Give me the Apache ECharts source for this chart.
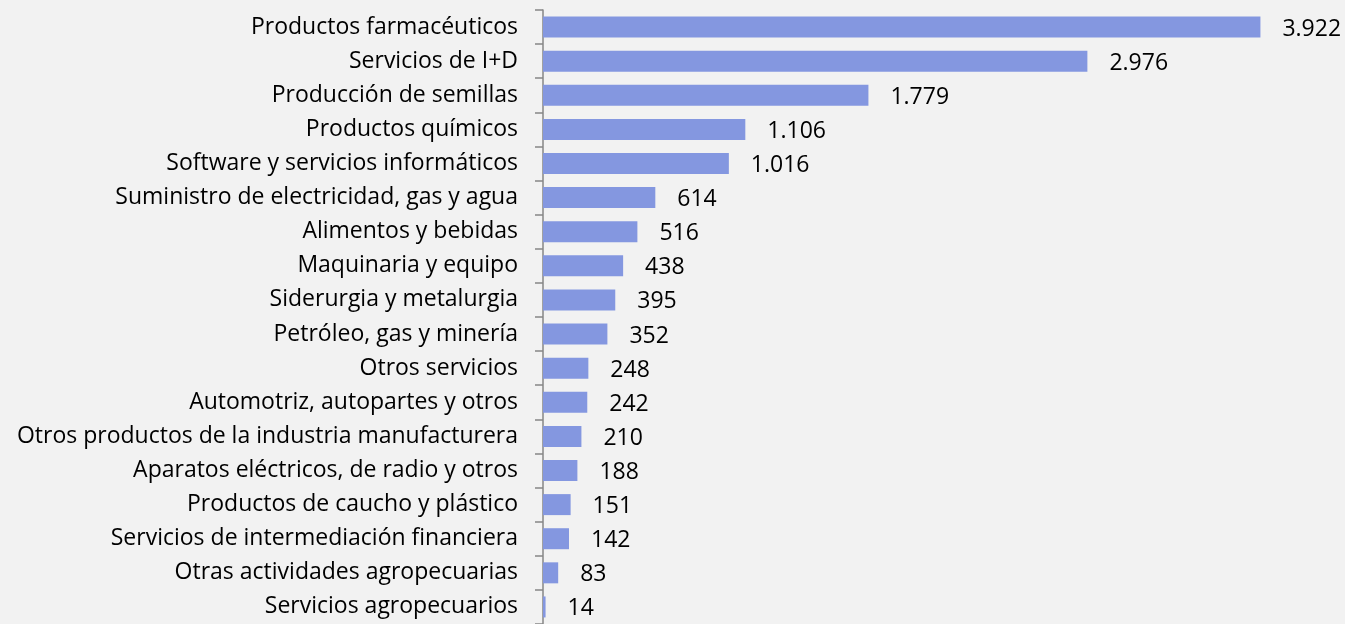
<!DOCTYPE html>
<html>
<head>
<meta charset="utf-8">
<script src="https://cdn.jsdelivr.net/npm/echarts@6/dist/echarts.min.js"></script>
<style>
  html, body { margin: 0; padding: 0; background: #f2f2f2; }
  #chart { width: 1345px; height: 624px; }
</style>
</head>
<body>
<div id="chart"></div>
<script>
  // categorias (de arriba hacia abajo)
  var categorias = [
    'Productos farmacéuticos',
    'Servicios de I+D',
    'Producción de semillas',
    'Productos químicos',
    'Software y servicios informáticos',
    'Suministro de electricidad, gas y agua',
    'Alimentos y bebidas',
    'Maquinaria y equipo',
    'Siderurgia y metalurgia',
    'Petróleo, gas y minería',
    'Otros servicios',
    'Automotriz, autopartes y otros',
    'Otros productos de la industria manufacturera',
    'Aparatos eléctricos, de radio y otros',
    'Productos de caucho y plástico',
    'Servicios de intermediación financiera',
    'Otras actividades agropecuarias',
    'Servicios agropecuarios'
  ];
  var valores = [3922, 2976, 1779, 1106, 1016, 614, 516, 438, 395, 352, 248, 242, 210, 188, 151, 142, 83, 14];

  function miles(v) {
    return String(v).replace(/\B(?=(\d{3})+(?!\d))/g, '.');
  }

  var fuente = '"Open Sans", sans-serif';
  var myChart = echarts.init(document.getElementById('chart'));
  myChart.setOption({
    backgroundColor: '#f2f2f2',
    animation: false,
    grid: {
      left: 543,
      top: 10,
      width: 731.7,
      height: 617.6
    },
    xAxis: {
      type: 'value',
      min: 0,
      max: 4000,
      show: false
    },
    yAxis: {
      type: 'category',
      inverse: true,
      data: categorias,
      axisLine: { show: true, lineStyle: { color: '#868686', width: 1.5 } },
      axisTick: { show: true, length: 8, lineStyle: { color: '#868686', width: 1.5 } },
      axisLabel: {
        margin: 25,
        color: '#000',
        fontSize: 23,
        fontFamily: fuente,
        padding: [4, 0, 0, 0]
      },
      splitLine: { show: false }
    },
    series: [{
      type: 'bar',
      data: valores,
      barWidth: 21,
      itemStyle: { color: '#8497e0' },
      label: {
        show: true,
        position: 'right',
        distance: 22,
        offset: [0, 2],
        color: '#000',
        fontSize: 23,
        fontFamily: fuente,
        formatter: function (p) { return miles(p.value); }
      }
    }]
  });
</script>
</body>
</html>
